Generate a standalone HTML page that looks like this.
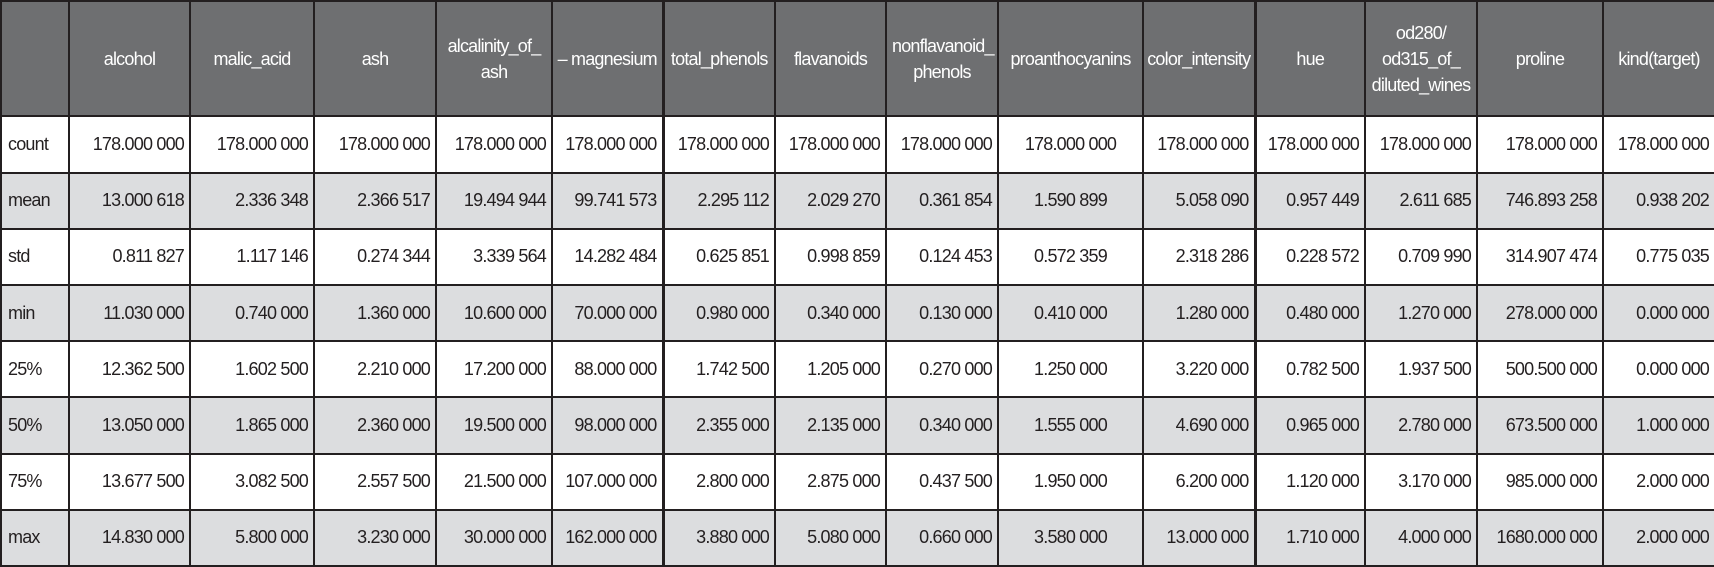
<!DOCTYPE html>
<html><head><meta charset="utf-8"><style>
html,body{margin:0;padding:0;background:#fff;}
body{width:1714px;height:567px;overflow:hidden;}
table{border-collapse:collapse;table-layout:fixed;width:1714px;height:567px;font-family:"Liberation Sans Narrow","Liberation Sans",sans-serif;font-size:18px;color:#231f20;letter-spacing:-0.8px;}
td,th{border:2px solid #231f20;padding:0 5px;white-space:nowrap;overflow:hidden;}
th{background:#6e6f71;color:#fff;font-weight:normal;text-align:center;height:111px;line-height:26px;white-space:normal;}
th.nw{white-space:nowrap;padding:0 2px;}
td{text-align:right;height:53px;}
td.lab{text-align:left;padding-left:6px;}
tr.g td{background:#dcdddf;}
.thick{border-left-width:3px;}
</style></head><body>
<table>
<colgroup>
<col style="width:68px"><col style="width:121px"><col style="width:124px"><col style="width:122px"><col style="width:116px"><col style="width:111px"><col style="width:112px"><col style="width:111px"><col style="width:112px"><col style="width:145px"><col style="width:112px"><col style="width:110px"><col style="width:112px"><col style="width:126px"><col style="width:112px">
</colgroup>
<tr>
<th></th>
<th>alcohol</th>
<th>malic_acid</th>
<th>ash</th>
<th>alcalinity_of_<br>ash</th>
<th class="nw">– magnesium</th>
<th class="thick">total_phenols</th>
<th>flavanoids</th>
<th>nonflavanoid_<br>phenols</th>
<th>proanthocyanins</th>
<th class="nw">color_intensity</th>
<th class="thick">hue</th>
<th>od280/<br>od315_of_<br>diluted_wines</th>
<th>proline</th>
<th>kind(target)</th>
</tr>
<tr><td class="lab">count</td><td>178.000 000</td><td>178.000 000</td><td>178.000 000</td><td>178.000 000</td><td>178.000 000</td><td class="thick">178.000 000</td><td>178.000 000</td><td>178.000 000</td><td style="text-align:center">178.000 000</td><td>178.000 000</td><td class="thick">178.000 000</td><td>178.000 000</td><td>178.000 000</td><td>178.000 000</td></tr>
<tr class="g"><td class="lab">mean</td><td>13.000 618</td><td>2.336 348</td><td>2.366 517</td><td>19.494 944</td><td>99.741 573</td><td class="thick">2.295 112</td><td>2.029 270</td><td>0.361 854</td><td style="text-align:center">1.590 899</td><td>5.058 090</td><td class="thick">0.957 449</td><td>2.611 685</td><td>746.893 258</td><td>0.938 202</td></tr>
<tr><td class="lab">std</td><td>0.811 827</td><td>1.117 146</td><td>0.274 344</td><td>3.339 564</td><td>14.282 484</td><td class="thick">0.625 851</td><td>0.998 859</td><td>0.124 453</td><td style="text-align:center">0.572 359</td><td>2.318 286</td><td class="thick">0.228 572</td><td>0.709 990</td><td>314.907 474</td><td>0.775 035</td></tr>
<tr class="g"><td class="lab">min</td><td>11.030 000</td><td>0.740 000</td><td>1.360 000</td><td>10.600 000</td><td>70.000 000</td><td class="thick">0.980 000</td><td>0.340 000</td><td>0.130 000</td><td style="text-align:center">0.410 000</td><td>1.280 000</td><td class="thick">0.480 000</td><td>1.270 000</td><td>278.000 000</td><td>0.000 000</td></tr>
<tr><td class="lab">25%</td><td>12.362 500</td><td>1.602 500</td><td>2.210 000</td><td>17.200 000</td><td>88.000 000</td><td class="thick">1.742 500</td><td>1.205 000</td><td>0.270 000</td><td style="text-align:center">1.250 000</td><td>3.220 000</td><td class="thick">0.782 500</td><td>1.937 500</td><td>500.500 000</td><td>0.000 000</td></tr>
<tr class="g"><td class="lab">50%</td><td>13.050 000</td><td>1.865 000</td><td>2.360 000</td><td>19.500 000</td><td>98.000 000</td><td class="thick">2.355 000</td><td>2.135 000</td><td>0.340 000</td><td style="text-align:center">1.555 000</td><td>4.690 000</td><td class="thick">0.965 000</td><td>2.780 000</td><td>673.500 000</td><td>1.000 000</td></tr>
<tr><td class="lab">75%</td><td>13.677 500</td><td>3.082 500</td><td>2.557 500</td><td>21.500 000</td><td>107.000 000</td><td class="thick">2.800 000</td><td>2.875 000</td><td>0.437 500</td><td style="text-align:center">1.950 000</td><td>6.200 000</td><td class="thick">1.120 000</td><td>3.170 000</td><td>985.000 000</td><td>2.000 000</td></tr>
<tr class="g"><td class="lab">max</td><td>14.830 000</td><td>5.800 000</td><td>3.230 000</td><td>30.000 000</td><td>162.000 000</td><td class="thick">3.880 000</td><td>5.080 000</td><td>0.660 000</td><td style="text-align:center">3.580 000</td><td>13.000 000</td><td class="thick">1.710 000</td><td>4.000 000</td><td>1680.000 000</td><td>2.000 000</td></tr>
</table>
</body></html>
